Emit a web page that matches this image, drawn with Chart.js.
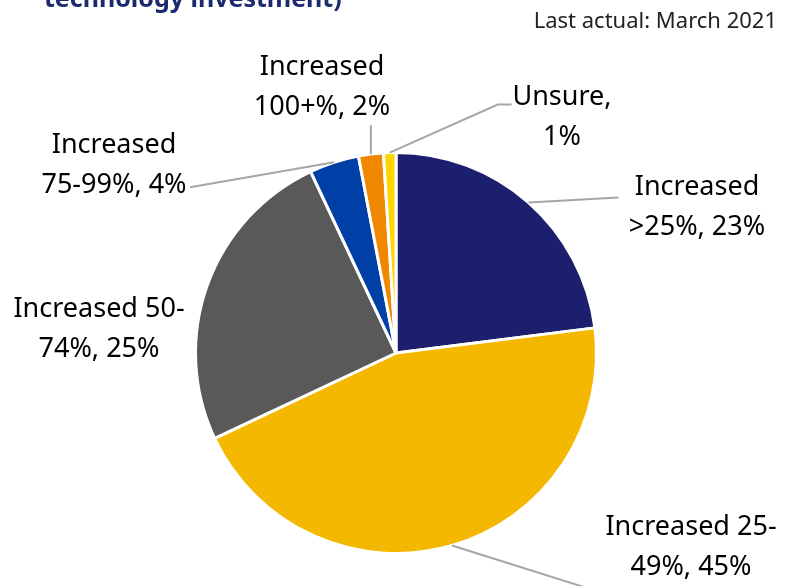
<!DOCTYPE html>
<html>
<head>
<meta charset="utf-8">
<script src="https://cdn.jsdelivr.net/npm/chart.js@4.4.1/dist/chart.umd.min.js"></script>
<style>
  html, body { margin: 0; padding: 0; background: #ffffff; }
  #wrap { position: relative; width: 793px; height: 586px; overflow: hidden; }
  canvas { display: block; }
</style>
</head>
<body>
<div id="wrap"><canvas id="c" width="793" height="586"></canvas></div>
<script>
// ---- Data ----
const categories = [
  ["Increased", ">25%, 23%"],
  ["Increased 25-", "49%, 45%"],
  ["Increased 50-", "74%, 25%"],
  ["Increased", "75-99%, 4%"],
  ["Increased", "100+%, 2%"],
  ["Unsure,", "1%"]
];
const values = [23, 45, 25, 4, 2, 1];
const colors = ["#1c1f6e", "#f5b800", "#595959", "#0040a6", "#ef8700", "#ffd500"];
const titleText = "technology investment)";
const noteText = "Last actual: March 2021";

// label placement relative to the pie centre (style only)
const labelStyle = [
  { dx: 301, dy: -158, line: [[0, 0], [90, -5]] },
  { dx: 295, dy: 182, line: [[0, 0], [140, 44]] },
  { dx: -297, dy: -36, line: null },
  { dx: -282, dy: -200, line: [[0, 0], [-144, 25]] },
  { dx: -74, dy: -278, line: [[0, 0], [0, -29]] },
  { dx: 166, dy: -248, line: [[0, 0], [108, -48], [122, -48]] }
];

const labelPlugin = {
  id: 'pieLabels',
  afterDatasetsDraw(chart) {
    const ctx = chart.ctx;
    const meta = chart.getDatasetMeta(0);
    ctx.save();
    meta.data.forEach((arc, i) => {
      const p = arc.getProps(['x', 'y', 'startAngle', 'endAngle', 'outerRadius'], true);
      const mid = (p.startAngle + p.endAngle) / 2;
      const ex = p.x + Math.cos(mid) * p.outerRadius;
      const ey = p.y + Math.sin(mid) * p.outerRadius;
      const st = labelStyle[i];
      if (st.line) {
        ctx.beginPath();
        ctx.strokeStyle = '#a6a6a6';
        ctx.lineWidth = 2;
        st.line.forEach((pt, k) => {
          if (k === 0) ctx.moveTo(ex + pt[0], ey + pt[1]);
          else ctx.lineTo(ex + pt[0], ey + pt[1]);
        });
        ctx.stroke();
      }
      ctx.fillStyle = '#000000';
      ctx.font = '27px "Noto Sans", "Open Sans", sans-serif';
      ctx.textAlign = 'center';
      ctx.textBaseline = 'alphabetic';
      const lines = categories[i];
      lines.forEach((t, k) => {
        ctx.fillText(t, p.x + st.dx, p.y + st.dy + k * 40);
      });
    });
    // title and note
    ctx.fillStyle = '#1a2a6c';
    ctx.font = 'bold 25px "Noto Sans", "Open Sans", sans-serif';
    ctx.textAlign = 'left';
    ctx.fillText(titleText, 44, 7);
    ctx.fillStyle = '#222222';
    ctx.font = '22px "Noto Sans", "Open Sans", sans-serif';
    ctx.textAlign = 'right';
    ctx.fillText(noteText, 777, 28);
    ctx.restore();
  }
};

new Chart(document.getElementById('c'), {
  type: 'pie',
  data: {
    labels: categories.map(c => c.join(' ')),
    datasets: [{
      data: values,
      backgroundColor: colors,
      borderColor: '#ffffff',
      borderWidth: 3
    }]
  },
  options: {
    responsive: false,
    animation: false,
    rotation: 0,
    layout: { padding: { left: 194, right: 195, top: 151, bottom: 31 } },
    plugins: {
      legend: { display: false },
      tooltip: { enabled: false },
      title: { display: false }
    }
  },
  plugins: [labelPlugin]
});
</script>
</body>
</html>
